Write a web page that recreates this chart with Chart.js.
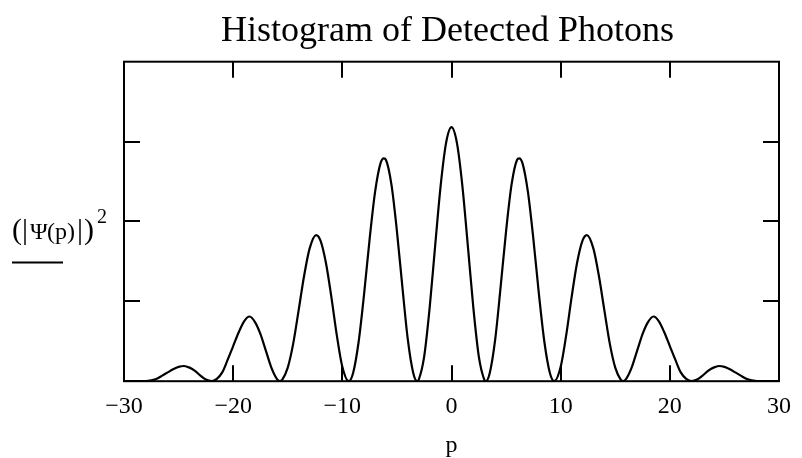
<!DOCTYPE html>
<html>
<head>
<meta charset="utf-8">
<title>Histogram of Detected Photons</title>
<script src="https://cdn.jsdelivr.net/npm/chart.js@4.4.1/dist/chart.umd.min.js"></script>
<style>
  html, body { margin: 0; padding: 0; background: #fff; }
</style>
</head>
<body>
<canvas id="photonChart" width="802" height="458"></canvas>
<script>
// =========================
// Data
// p = position, psiSquared = (|psi(p)|)^2 in units of one y tick
// =========================

const pValues = [
  -30, -29, -28, -27.5, -27, -26.5, -26, -25.5, -25, -24.5, -24, -23.5, -23, -22.5,
  -21.99, -21.5, -21, -20.5, -20, -19.5, -19, -18.5, -18, -17.5, -17, -16.5, -16,
  -15.71, -15.5, -15, -14.5, -14, -13.5, -13, -12.4, -12, -11.5, -11, -10.5, -10,
  -9.42, -9, -8.5, -8, -7.5, -7, -6.5, -6.2, -6, -5.5, -5, -4.5, -4, -3.5,
  -3.14, -3, -2.5, -2, -1.5, -1, -0.5,
  0,
  0.5, 1, 1.5, 2, 2.5, 3, 3.14,
  3.5, 4, 4.5, 5, 5.5, 6, 6.2, 6.5, 7, 7.5, 8, 8.5, 9, 9.42,
  10, 10.5, 11, 11.5, 12, 12.4, 13, 13.5, 14, 14.5, 15, 15.5, 15.71,
  16, 16.5, 17, 17.5, 18, 18.5, 19, 19.5, 20, 20.5, 21, 21.5, 21.99,
  22.5, 23, 23.5, 24, 24.5, 25, 25.5, 26, 26.5, 27, 27.5, 28, 29, 30
];

const psiSquared = [
  0, 0, 0, 0.01, 0.03, 0.07, 0.11, 0.15, 0.18, 0.19, 0.17, 0.13, 0.07, 0.02,
  0, 0.03, 0.11, 0.27, 0.44, 0.61, 0.75, 0.81, 0.74, 0.59, 0.38, 0.17, 0.03,
  0, 0.02, 0.17, 0.47, 0.89, 1.32, 1.66, 1.83, 1.76, 1.48, 1.05, 0.57, 0.18,
  0, 0.11, 0.50, 1.10, 1.78, 2.37, 2.73, 2.79, 2.77, 2.46, 1.88, 1.18, 0.52, 0.10,
  0, 0.02, 0.31, 0.92, 1.69, 2.44, 2.98,
  3.18,
  2.98, 2.44, 1.69, 0.92, 0.31, 0.02, 0,
  0.10, 0.52, 1.18, 1.88, 2.46, 2.77, 2.79, 2.73, 2.37, 1.78, 1.10, 0.50, 0.11, 0,
  0.18, 0.57, 1.05, 1.48, 1.76, 1.83, 1.66, 1.32, 0.89, 0.47, 0.17, 0.02, 0,
  0.03, 0.17, 0.38, 0.59, 0.74, 0.81, 0.75, 0.61, 0.44, 0.27, 0.11, 0.03, 0,
  0.02, 0.07, 0.13, 0.17, 0.19, 0.18, 0.15, 0.11, 0.07, 0.03, 0.01, 0, 0, 0
];

const xRange = [-30, 30];
const yRange = [0, 4];

const SERIF = "'Liberation Serif', 'Times New Roman', serif";
const TICK_LEN = 16;

// =========================
// Plugins: boxed frame with inward ticks, y label
// =========================

const framePlugin = {
  id: "frame",
  afterDatasetsDraw(chart) {
    const { ctx, chartArea: a, scales } = chart;
    ctx.save();
    ctx.strokeStyle = "#000";
    ctx.lineWidth = 2;
    ctx.strokeRect(a.left, a.top, a.right - a.left, a.bottom - a.top);

    ctx.beginPath();
    scales.x.ticks.forEach(t => {
      if (t.value <= scales.x.min || t.value >= scales.x.max) return;
      const px = Math.round(scales.x.getPixelForValue(t.value));
      ctx.moveTo(px, a.bottom);
      ctx.lineTo(px, a.bottom - TICK_LEN);
      ctx.moveTo(px, a.top);
      ctx.lineTo(px, a.top + TICK_LEN);
    });
    scales.y.ticks.forEach(t => {
      if (t.value <= scales.y.min || t.value >= scales.y.max) return;
      const py = Math.round(scales.y.getPixelForValue(t.value));
      ctx.moveTo(a.left, py);
      ctx.lineTo(a.left + TICK_LEN, py);
      ctx.moveTo(a.right, py);
      ctx.lineTo(a.right - TICK_LEN, py);
    });
    ctx.stroke();
    ctx.restore();
  }
};

const yLabelPlugin = {
  id: "yLabel",
  afterDraw(chart) {
    const { ctx, chartArea: a, scales } = chart;
    const x0 = a.left - 112;
    const base = scales.y.getPixelForValue(2) + 18;
    const big = "30px " + SERIF;
    const small = "24px " + SERIF;
    // [text, font, x offset, baseline offset]
    const parts = [
      ["(", big, 0, 0],
      ["|", big, 10, 0],
      ["\u03A8", small, 18, 0],
      ["(p)", small, 35, 0],
      ["|", big, 65, 0],
      [")", big, 72, 0],
      ["2", "20px " + SERIF, 85, -16]
    ];
    ctx.save();
    ctx.fillStyle = "#000";
    ctx.textBaseline = "alphabetic";
    parts.forEach(([txt, font, dx, dy]) => {
      ctx.font = font;
      ctx.fillText(txt, x0 + dx, base + dy);
    });
    // legend underline under the trace name
    ctx.strokeStyle = "#000";
    ctx.lineWidth = 2;
    ctx.beginPath();
    ctx.moveTo(x0, base + 23);
    ctx.lineTo(x0 + 51, base + 23);
    ctx.stroke();
    ctx.restore();
  }
};

// =========================
// Chart
// =========================

const ctx = document.getElementById("photonChart").getContext("2d");

const photonChart = new Chart(ctx, {
  type: "line",
  data: {
    datasets: [{
      label: "(|\u03A8(p)|)\u00B2",
      data: pValues.map((p, i) => ({ x: p, y: psiSquared[i] })),
      borderColor: "#000",
      borderWidth: 2.2,
      pointRadius: 0,
      fill: false,
      cubicInterpolationMode: "monotone"
    }]
  },
  options: {
    responsive: false,
    animation: false,
    devicePixelRatio: 1,
    layout: { padding: { left: 114, right: 21, top: 0, bottom: 0 } },
    plugins: {
      legend: { display: false },
      tooltip: { enabled: false },
      title: {
        display: true,
        text: "Histogram of Detected Photons",
        color: "#000",
        font: { family: SERIF, size: 36, weight: "normal" },
        padding: { top: 10, bottom: 8.5 }
      }
    },
    scales: {
      x: {
        type: "linear",
        min: xRange[0],
        max: xRange[1],
        grid: { display: false, drawTicks: false },
        border: { display: false },
        ticks: {
          stepSize: 10,
          color: "#000",
          padding: 11,
          maxRotation: 0,
          font: { family: SERIF, size: 24 },
          callback: v => (v < 0 ? "\u2212" + Math.abs(v) : String(v))
        },
        title: {
          display: true,
          text: "p",
          color: "#000",
          font: { family: SERIF, size: 24, lineHeight: 1 },
          padding: { top: 2, bottom: 0 }
        }
      },
      y: {
        type: "linear",
        min: yRange[0],
        max: yRange[1],
        grid: { display: true, drawOnChartArea: false, drawTicks: true, tickLength: 10, color: "rgba(0,0,0,0)" },
        border: { display: false },
        ticks: { display: false, stepSize: 1 }
      }
    }
  },
  plugins: [framePlugin, yLabelPlugin]
});
</script>
</body>
</html>
